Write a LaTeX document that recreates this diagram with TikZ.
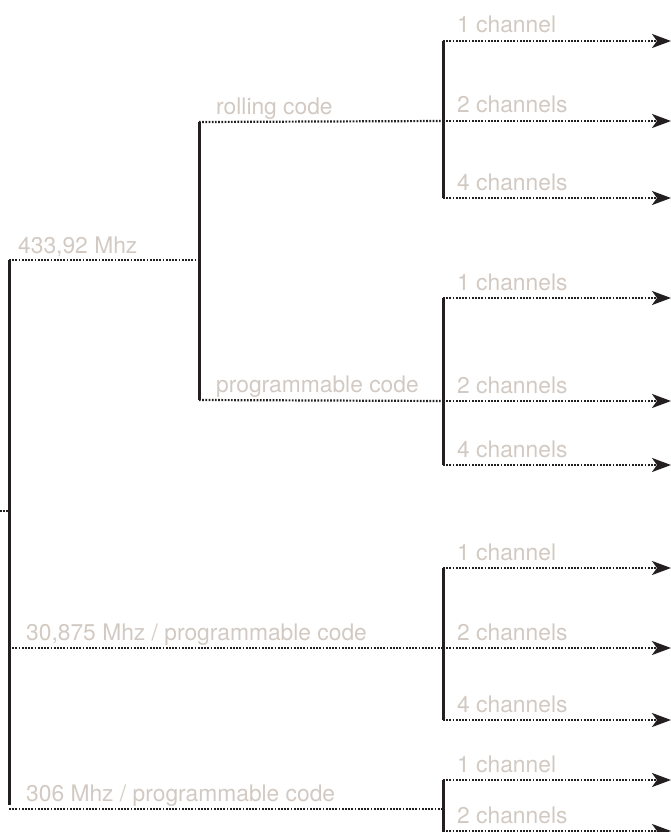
\documentclass[tikz,border=0pt]{standalone}
\usepackage{fontspec}
\setmainfont{TeX Gyre Heros}
\usetikzlibrary{arrows.meta,calc}
\definecolor{labgrey}{RGB}{210,202,194}
\definecolor{barblack}{RGB}{35,31,32}
\tikzset{
  barline/.style={line width=3pt, draw=barblack, line cap=butt},
  dotline/.style={line width=2.2pt, draw=barblack, line cap=butt, dash pattern=on 1.7pt off 1.5pt},
  arrowline/.style={dotline, -{Stealth[length=19pt,width=14pt,inset=5pt,sep=0pt]}},
  lab/.style={anchor=base west, inner sep=0pt, text=labgrey, font=\fontsize{22.8}{26}\selectfont},
}
\begin{document}
\begin{tikzpicture}[x=1pt,y=-1pt]
\useasboundingbox (0,0) rectangle (670,832);
% root
\coordinate (stub) at (0,511);
\coordinate (rootmid) at (9,511);
\coordinate (roottop) at (9,260);
\coordinate (rootbot) at (9,805);
\coordinate (r2) at (9,648);
\coordinate (r3) at (9,809);
% 433 branch
\coordinate (atop) at (199,122);
\coordinate (amid) at (199,260);
\coordinate (abot) at (199,400);
% group bars
\coordinate (g1t) at (443,41);  \coordinate (g1m) at (443,121); \coordinate (g1b) at (443,198);
\coordinate (g2t) at (443,298); \coordinate (g2m) at (443,401); \coordinate (g2b) at (443,465);
\coordinate (g3t) at (443,568); \coordinate (g3m) at (443,648); \coordinate (g3b) at (443,720);
\coordinate (g4t) at (443,780); \coordinate (g4m) at (443,809); \coordinate (g4b) at (443,831);
\coordinate (g4end) at (443,840);

\draw[barline] (roottop) -- (rootbot);
\draw[dotline] (stub) -- (rootmid);
\draw[dotline] (roottop) -- (amid);
\draw[barline] (atop) -- (abot);
\draw[dotline] (atop) -- (g1m);
\draw[dotline] (abot) -- (g2m);
\draw[dotline] (r2) -- (g3m);
\draw[dotline] (r3) -- (g4m);

\draw[barline] (g1t) -- (g1b);
\draw[barline] (g2t) -- (g2b);
\draw[barline] (g3t) -- (g3b);
\draw[barline] (g4t) -- (g4end);

\foreach \g in {g1t,g1m,g1b,g2t,g2m,g2b,g3t,g3m,g3b,g4t,g4b}{
  \coordinate (\g e) at ($(\g)+(228,0)$);
  \draw[arrowline] (\g) -- (\g e);
}

% labels
\node[lab] (l433) at ($(roottop)+(9,-7)$) {433,92 Mhz};
\node[lab] (lroll) at ($(atop)+(17,-8)$) {rolling code};
\node[lab] (lprog) at ($(abot)+(17,-8)$) {programmable code};
\node[lab] (l308) at ($(r2)+(17,-8)$) {30,875 Mhz / programmable code};
\node[lab] (l306) at ($(r3)+(17,-8)$) {306 Mhz / programmable code};

\node[lab] (c11) at ($(g1t)+(14,-8)$) {1 channel};
\node[lab] (c12) at ($(g1m)+(14,-8)$) {2 channels};
\node[lab] (c14) at ($(g1b)+(14,-8)$) {4 channels};
\node[lab] (c21) at ($(g2t)+(14,-8)$) {1 channels};
\node[lab] (c22) at ($(g2m)+(14,-8)$) {2 channels};
\node[lab] (c24) at ($(g2b)+(14,-8)$) {4 channels};
\node[lab] (c31) at ($(g3t)+(14,-8)$) {1 channel};
\node[lab] (c32) at ($(g3m)+(14,-8)$) {2 channels};
\node[lab] (c34) at ($(g3b)+(14,-8)$) {4 channels};
\node[lab] (c41) at ($(g4t)+(14,-8)$) {1 channel};
\node[lab] (c42) at ($(g4b)+(14,-8)$) {2 channels};
\end{tikzpicture}
\end{document}
